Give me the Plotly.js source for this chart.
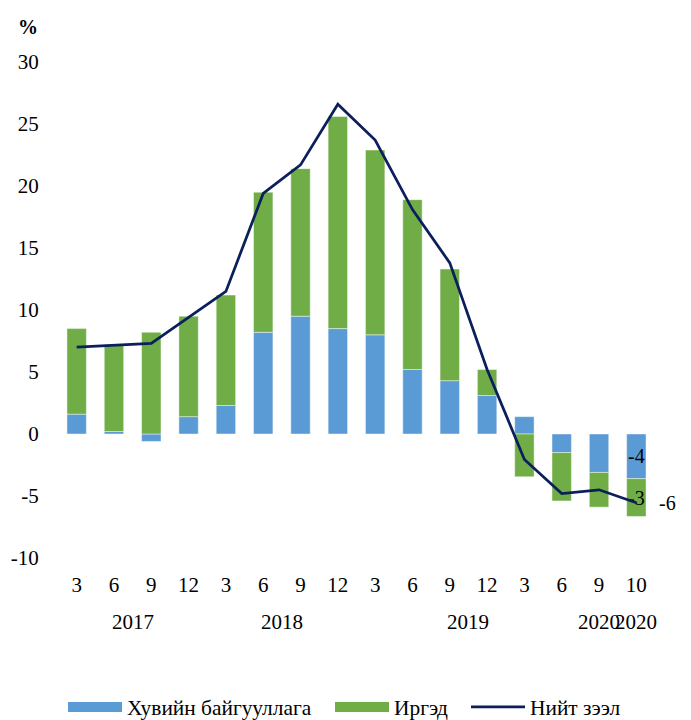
<!DOCTYPE html>
<html>
<head>
<meta charset="utf-8">
<script src="https://cdn.plot.ly/plotly-3.0.1.min.js"></script>
<style>html,body{margin:0;padding:0;background:#fff;}#chart{width:691px;height:720px;}</style>
</head>
<body>
<div id="chart"></div>
<script>
// ---- data ----
const months = ['3','6','9','12','3','6','9','12','3','6','9','12','3','6','9','10'];
const corporate = [1.6, 0.2, -0.6, 1.4, 2.3, 8.2, 9.5, 8.5, 8.0, 5.2, 4.3, 3.1, 1.4, -1.5, -3.1, -3.6];
const individuals = [6.9, 7.0, 8.2, 8.1, 8.9, 11.3, 11.9, 17.1, 14.9, 13.7, 9.0, 2.1, -3.45, -3.9, -2.8, -3.05];
const totalLoans = [7.0, 7.15, 7.3, 9.4, 11.5, 19.4, 21.7, 26.6, 23.7, 18.1, 13.8, 5.2, -2.05, -4.8, -4.5, -5.55];
const yearLabels = ['2017', '2018', '2019', '2020', '2020'];
const yearFirstIdx = [0, 4, 9, 14, 15];
const yearLastIdx = [3, 7, 12, 14, 15];
const seriesNames = ['Хувийн байгууллага', 'Иргэд', 'Нийт зээл'];
const yTicks = [-10, -5, 0, 5, 10, 15, 20, 25, 30];

// ---- chart ----
const FONT = 'Liberation Serif';
const BLUE = '#5B9BD5', GREEN = '#70AD47', NAVY = '#0A1F5C';
const xIdx = months.map((_, i) => i);
const last = months.length - 1;
const lastLabel = arr => arr.map((v, i) => i === last ? String(Math.round(v)) : '');

const traces = [
  {type: 'bar', name: seriesNames[0], x: xIdx, y: corporate, showlegend: false,
   marker: {color: BLUE, line: {color: 'rgba(255,255,255,0.55)', width: 0.8}},
   text: lastLabel(corporate), textposition: 'inside', insidetextanchor: 'middle',
   constraintext: 'none', textfont: {family: FONT, size: 20, color: '#000'}, hoverinfo: 'y'},
  {type: 'bar', name: seriesNames[1], x: xIdx, y: individuals, showlegend: false,
   marker: {color: GREEN, line: {color: 'rgba(255,255,255,0.55)', width: 0.8}},
   text: lastLabel(individuals), textposition: 'inside', insidetextanchor: 'middle',
   constraintext: 'none', textfont: {family: FONT, size: 20, color: '#000'}, hoverinfo: 'y'},
  {type: 'scatter', mode: 'lines', name: seriesNames[2], x: xIdx, y: totalLoans, showlegend: false,
   line: {color: NAVY, width: 2.75}, cliponaxis: false},
  // legend-only entries (wide swatches as in the reference), one legend box each
  {type: 'scatter', mode: 'lines', name: seriesNames[0], x: [null], y: [null], legend: 'legend',
   line: {color: BLUE, width: 10}},
  {type: 'scatter', mode: 'lines', name: seriesNames[1], x: [null], y: [null], legend: 'legend2',
   line: {color: GREEN, width: 10}},
  {type: 'scatter', mode: 'lines', name: seriesNames[2], x: [null], y: [null], legend: 'legend3',
   line: {color: NAVY, width: 2.75}}
];

const annotations = yearLabels.map((lab, i) => ({
  text: lab, x: (yearFirstIdx[i] + yearLastIdx[i]) / 2, xref: 'x', y: 0, yref: 'paper',
  yanchor: 'middle', xanchor: 'center', yshift: -64, showarrow: false,
  font: {family: FONT, size: 21, color: '#000'}
}));
// label of the last total-loan point
annotations.push({text: String(Math.round(totalLoans[last])), x: last, xref: 'x', y: totalLoans[last], yref: 'y',
  xanchor: 'center', yanchor: 'middle', xshift: 31, showarrow: false, font: {family: FONT, size: 20, color: '#000'}});
annotations.push({text: '<b>%</b>', x: 0, xref: 'paper', y: 1, yref: 'paper', xanchor: 'center',
  yanchor: 'middle', xshift: -30, yshift: 35, showarrow: false, font: {family: FONT, size: 20, color: '#000'}});

const legendBase = x => ({orientation: 'h', xref: 'container', yref: 'container', x: x, y: 0.018,
  xanchor: 'left', yanchor: 'middle', itemwidth: 54, bgcolor: 'rgba(0,0,0,0)',
  font: {family: FONT, size: 21.4, color: '#000'}});

const layout = {
  width: 691, height: 720,
  margin: {l: 58, r: 36, t: 62, b: 162},
  paper_bgcolor: '#fff', plot_bgcolor: '#fff',
  barmode: 'relative', bargap: 0.48,
  font: {family: FONT, size: 21, color: '#000'},
  xaxis: {range: [-0.5, last + 0.5], tickmode: 'array', tickvals: xIdx, ticktext: months,
    showgrid: false, zeroline: false, showline: false, ticks: 'outside', ticklen: 8,
    tickcolor: 'rgba(0,0,0,0)', automargin: false, fixedrange: true,
    tickfont: {family: FONT, size: 21, color: '#000'}},
  yaxis: {range: [-10, 30], tickmode: 'array', tickvals: yTicks, ticktext: yTicks.map(String),
    showgrid: false, zeroline: false, showline: false, ticks: 'outside', ticklen: 14,
    tickcolor: 'rgba(0,0,0,0)', automargin: false, fixedrange: true,
    tickfont: {family: FONT, size: 21, color: '#000'}},
  legend: legendBase(0.0912),
  legend2: legendBase(0.4776),
  legend3: legendBase(0.6744),
  annotations: annotations,
  showlegend: true
};

Plotly.newPlot('chart', traces, layout, {displayModeBar: false});
</script>
</body>
</html>
